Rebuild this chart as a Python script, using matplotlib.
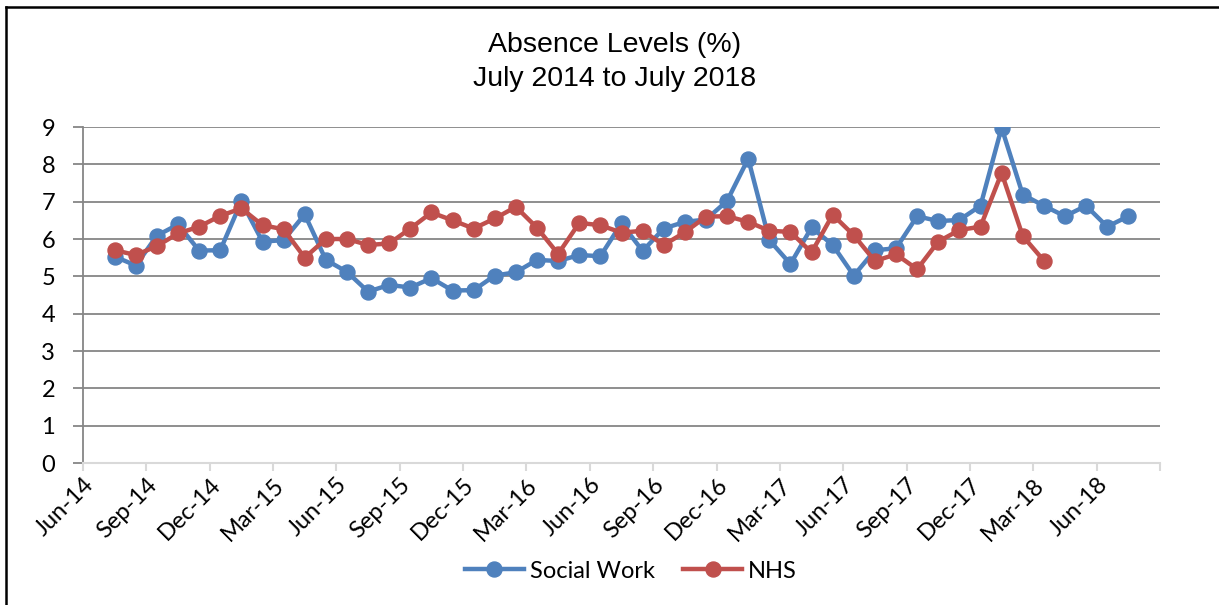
import matplotlib
matplotlib.use("Agg")
import matplotlib.pyplot as plt
import numpy as np
import pandas as pd

# monthly absence levels (%), Jul-14 .. Jul-18
months = pd.date_range("2014-07-01", "2018-07-01", freq="MS")
social_work = [5.53, 5.29, 6.09, 6.39, 5.69, 5.70, 7.01, 5.93, 5.97, 6.66,
               5.44, 5.12, 4.59, 4.77, 4.70, 4.95, 4.62, 4.63, 5.02, 5.11,
               5.44, 5.41, 5.57, 5.54, 6.42, 5.68, 6.28, 6.46, 6.52, 7.02,
               8.15, 5.97, 5.33, 6.31, 5.84, 5.02, 5.70, 5.75, 6.61, 6.48,
               6.51, 6.89, 8.98, 7.19, 6.89, 6.61, 6.89, 6.33, 6.61]
nhs = [5.70, 5.57, 5.81, 6.15, 6.33, 6.62, 6.82, 6.37, 6.26, 5.50,
       6.00, 6.00, 5.84, 5.88, 6.28, 6.71, 6.50, 6.28, 6.55, 6.86,
       6.30, 5.60, 6.43, 6.37, 6.17, 6.22, 5.84, 6.18, 6.60, 6.61,
       6.46, 6.22, 6.19, 5.64, 6.65, 6.10, 5.41, 5.59, 5.19, 5.93,
       6.24, 6.33, 7.77, 6.08, 5.42]
tick_dates = pd.date_range("2014-06-01", "2018-09-01", freq="3MS")

BLUE = "#4F81BD"
RED = "#C0504D"
GRID = "#868686"
TICK_FONT = "Lato"


def month_index(d):
    # months since Jun-14, Excel puts each point in the middle of its month
    return (d.year - 2014) * 12 + d.month - 6


x = np.array([month_index(d) for d in months]) + 0.5
xt = [month_index(d) for d in tick_dates]
xt_labels = [d.strftime("%b-%y") for d in tick_dates]
xt_labels[-1] = ""

fig = plt.figure(figsize=(12.19, 6.05), dpi=100)
ax = fig.add_axes([83 / 1219, 1 - 463 / 605, (1160 - 83) / 1219, (463 - 127) / 605])

ax.plot(x, social_work, color=BLUE, lw=3.2, marker="o", ms=10.8,
        label="Social Work", zorder=3)
ax.plot(x[:len(nhs)], nhs, color=RED, lw=3.2, marker="o", ms=10.8,
        label="NHS", zorder=3)

ax.set_xlim(xt[0], xt[-1])
ax.set_ylim(0, 9)
ax.set_yticks(range(10))
ax.grid(axis="y", color=GRID, lw=1.3)
ax.set_axisbelow(True)

for s in ["top", "right"]:
    ax.spines[s].set_visible(False)
ax.spines["left"].set_color(GRID)
ax.spines["left"].set_linewidth(1.3)
ax.spines["bottom"].set_color("#d9d9d9")
ax.spines["bottom"].set_linewidth(1.5)

ax.tick_params(axis="y", length=7, width=1.3, color=GRID, pad=13,
               labelsize=17)
ax.tick_params(axis="x", length=6, width=1.5, color="#d9d9d9", pad=2,
               labelsize=17)
ax.set_xticks(xt)
ax.set_xticklabels(xt_labels, rotation=45, ha="right", va="top",
                   rotation_mode="anchor")
for lab in ax.get_xticklabels() + ax.get_yticklabels():
    lab.set_family(TICK_FONT)

fig.text(0.504, 1 - 45 / 605, "Absence Levels (%)", ha="center", va="center",
         fontsize=20.5, family="Liberation Sans")
fig.text(0.504, 1 - 79 / 605, "July 2014 to July 2018", ha="center",
         va="center", fontsize=20.5, family="Liberation Sans")

fig.legend(loc="center", bbox_to_anchor=(631 / 1219, 1 - 571 / 605), ncol=2,
           frameon=False, handlelength=2.5, handletextpad=0.25,
           columnspacing=1.2, prop={"family": TICK_FONT, "size": 17})

# chart area border (cut off at right and bottom in the original)
fig.add_artist(plt.Line2D([6 / 1219, 6 / 1219], [0, 1 - 7 / 605],
                          transform=fig.transFigure, color="black", lw=1.8))
fig.add_artist(plt.Line2D([6 / 1219, 1], [1 - 7 / 605, 1 - 7 / 605],
                          transform=fig.transFigure, color="black", lw=1.8))

fig.savefig("out.png", dpi=100)
